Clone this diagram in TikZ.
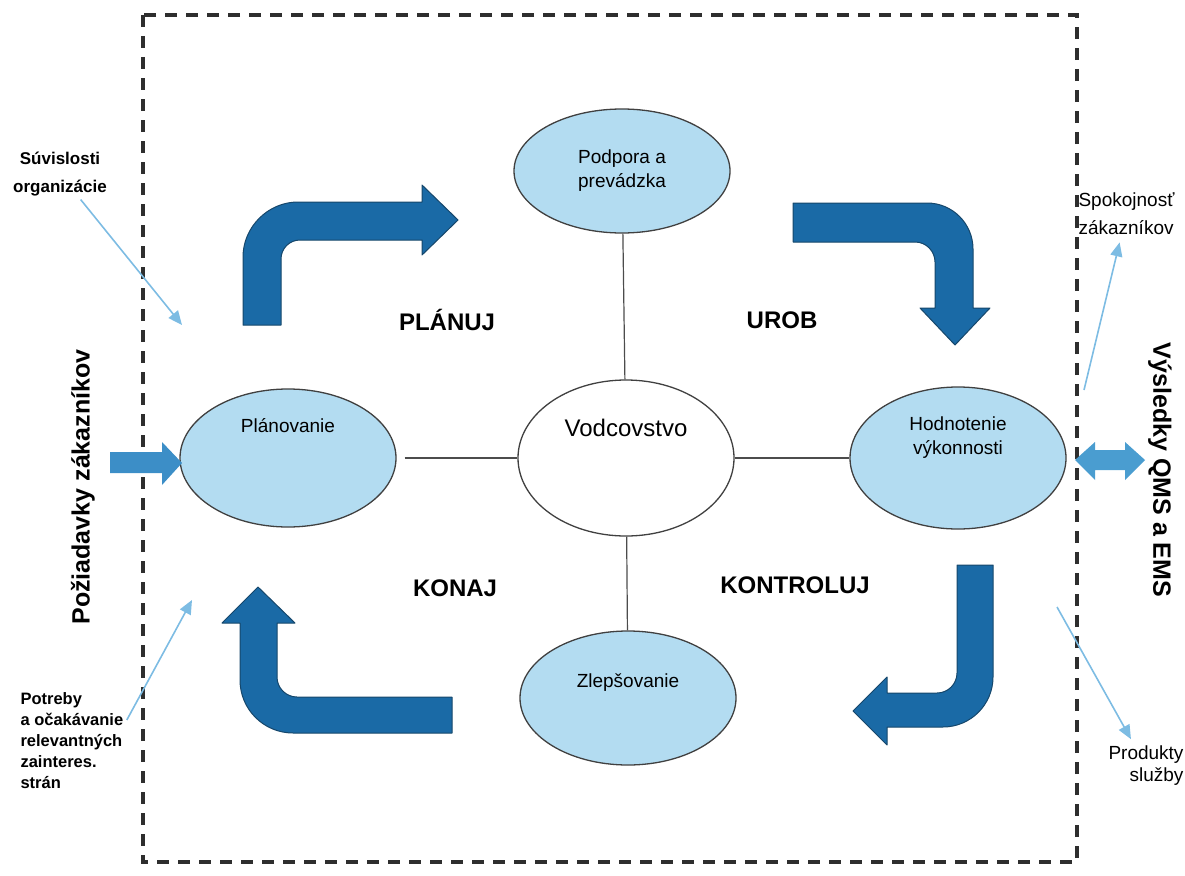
\documentclass[tikz,border=0pt]{standalone}
\usepackage{fontspec}
\setmainfont{Liberation Sans}
\usetikzlibrary{shapes.geometric,arrows.meta,calc}

\definecolor{blockblue}{HTML}{1A6AA6}
\definecolor{blockedge}{HTML}{16476B}
\definecolor{cellfill}{HTML}{B3DCF1}
\definecolor{inarrow}{HTML}{3C8EC7}
\definecolor{bothway}{HTML}{4A9DD0}
\definecolor{thinblue}{HTML}{7DBCE3}
\definecolor{framegray}{HTML}{2E2E2E}

\begin{document}
\begin{tikzpicture}[x=1pt,y=-1pt,
  cell/.style={ellipse, draw=black!75, line width=1.3pt, fill=cellfill,
    minimum width=216pt, inner sep=0pt},
  celltext/.style={font=\fontsize{19}{24}\selectfont, align=center},
  phase/.style={font=\bfseries\fontsize{24}{28}\selectfont},
  note/.style={font=\bfseries\fontsize{17}{28}\selectfont},
  side/.style={font=\bfseries\fontsize{25}{30}\selectfont},
  conn/.style={draw=black!70, line width=1.2pt},
  thin/.style={draw=thinblue, line width=1.6pt,
    -{Triangle[length=14pt,width=12pt]}},
  bigarrow/.style={fill=blockblue, draw=blockedge, line width=1pt, line join=round},
]
\useasboundingbox (0,0) rectangle (1185,875);

% system boundary
\draw[framegray, line width=3.5pt, dash pattern=on 12pt off 9pt]
  (143,15) rectangle (1077,862);

% process cells
\node[cell, minimum height=124pt,
  label={[celltext]center:{Podpora a\\prevádzka}}] (pod) at (622,171) {};
\node[cell, fill=white, minimum height=156pt,
  label={[celltext, font=\fontsize{24}{28}\selectfont, yshift=30pt]center:Vodcovstvo}] (vod) at (626,458) {};
\node[cell, minimum height=138pt,
  label={[celltext, yshift=32pt]center:Plánovanie}] (pla) at (288,458) {};
\node[cell, minimum height=142pt,
  label={[celltext, yshift=20pt]center:{Hodnotenie\\výkonnosti}}] (hod) at (958,458) {};
\node[cell, minimum height=134pt,
  label={[celltext, yshift=15pt]center:Zlepšovanie}] (zle) at (628,698) {};

% spokes from leadership
\draw[conn] (pod) -- (vod);
\draw[conn] (vod) -- (zle);
\draw[conn, shorten <=8pt] (pla) -- (vod);
\draw[conn] (vod) -- (hod);

% PDCA cycle arrows
\path[bigarrow] (243,325) -- (243,257) .. controls (243,227) and (268,202) .. (298,202)
  -- (422,202) -- (422,185) -- (458,220) -- (422,255) -- (422,240) -- (300,240)
  .. controls (289.5,240) and (281,248.5) .. (281,259) -- (281,325) -- cycle;
\path[bigarrow] (793,203) -- (927,203) .. controls (952.4,203) and (973,223.6) .. (973,249)
  -- (973,308) -- (990,308) -- (955,345) -- (920,308) -- (935,308) -- (935,262)
  .. controls (935,251.5) and (926.5,242) .. (915,242) -- (793,242) -- cycle;
\path[bigarrow] (258,587) -- (295,623) -- (277,623) -- (277,677)
  .. controls (277,688) and (286,697) .. (297,697) -- (452,697) -- (452,733) -- (293,733)
  .. controls (263.7,733) and (240,709.3) .. (240,680) -- (240,623) -- (222,623) -- cycle;
\path[bigarrow] (957,565) -- (993,565) -- (993,677)
  .. controls (993,704.6) and (970.6,727) .. (943,727) -- (887,727) -- (887,745)
  -- (853,711) -- (887,677) -- (887,693) -- (937,693)
  .. controls (948,693) and (957,684) .. (957,673) -- cycle;

% phase labels
\node[phase] (plan) at (447,320) {PLÁNUJ};
\node[phase] (urob) at (782,320) {UROB};
\node[phase] (konaj) at (455,588) {KONAJ};
\node[phase] (kontr) at (795,585) {KONTROLUJ};

% inputs and outputs across the boundary
\path[fill=inarrow] (110,452) -- (162,452) -- (162,442) -- (182,463) -- (162,485)
  -- (162,473) -- (110,473) -- cycle;
\path[fill=bothway] (1075,460) -- (1095,442) -- (1095,450) -- (1125,450) -- (1125,442)
  -- (1145,460) -- (1125,480) -- (1125,470) -- (1095,470) -- (1095,480) -- cycle;

\node[side, rotate=90] (poz) at (83,487) {Požiadavky zákazníkov};
\node[side, rotate=-90] (vys) at (1160,470) {Výsledky QMS a EMS};

% context notes
\node[note, align=center] (suv) at (60,174) {Súvislosti\\organizácie};
\node[note, align=left, anchor=west, font=\bfseries\fontsize{16.5}{21}\selectfont]
  (pot) at (17,741) {Potreby\\a očakávanie\\relevantných\\zainteres.\\strán};
\node[align=left, anchor=west, font=\fontsize{19}{28}\selectfont]
  (spo) at (1075,214) {Spokojnosť\\zákazníkov};
\node[align=right, anchor=east, font=\fontsize{19}{22}\selectfont]
  (pro) at (1187,766) {Produkty\\služby};

\coordinate (suvEnd) at (182,325);
\coordinate (potEnd) at (192,600);
\coordinate (spoStart) at (1084,390);
\coordinate (proStart) at (1057,607);

\draw[thin] (suv) -- (suvEnd);
\draw[thin] ([yshift=21pt]pot.east) -- (potEnd);
\draw[thin, shorten >=4pt] (spoStart) -- (spo);
\draw[thin, shorten >=4pt] (proStart) -- (pro);
\end{tikzpicture}
\end{document}
